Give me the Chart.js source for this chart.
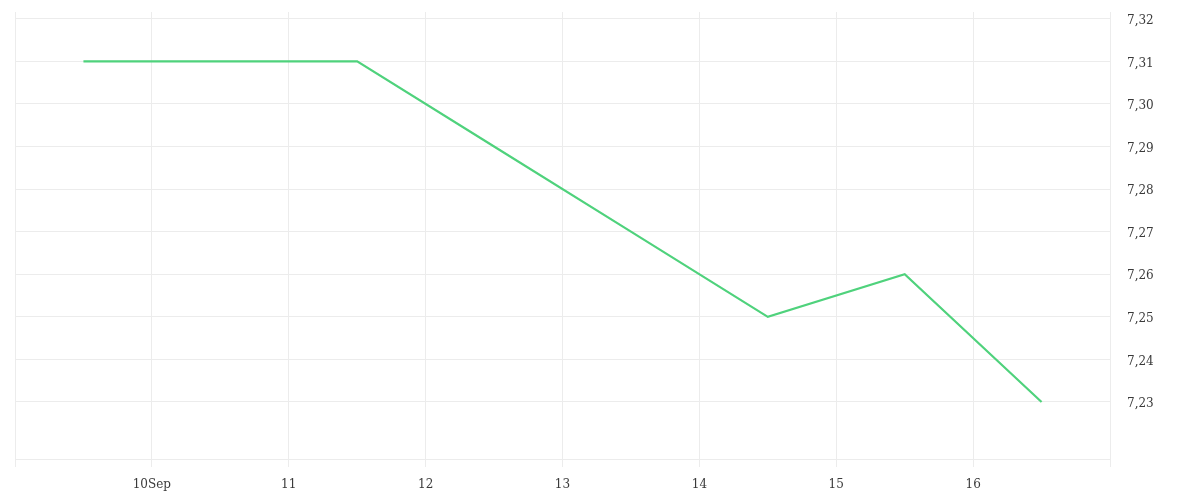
<!DOCTYPE html>
<html>
<head>
<meta charset="utf-8">
<script src="https://cdn.jsdelivr.net/npm/chart.js@4"></script>
<style>
html,body{margin:0;padding:0;background:#fff;}
#wrap{width:1200px;height:500px;}
</style>
</head>
<body>
<div id="wrap"><canvas id="c" width="1200" height="500"></canvas></div>
<script>
// Days of September (noon = .5)
const dayPositions = [9.5, 10.5, 11.5, 12.5, 13.5, 14.5, 15.5, 16.5];
const rateValues = [7.31, 7.31, 7.31, 7.29, 7.27, 7.25, 7.26, 7.23];
const xTickDays = [9, 10, 11, 12, 13, 14, 15, 16, 17];
const xTickLabels = ['', '10Sep', '11', '12', '13', '14', '15', '16', ''];
const yTickValues = [7.23, 7.24, 7.25, 7.26, 7.27, 7.28, 7.29, 7.30, 7.31, 7.32];

const points = dayPositions.map((d, i) => ({x: d, y: rateValues[i]}));
const gridColor = '#ececec';
const tickFont = {family: '"DejaVu Serif", serif', size: 12};

new Chart(document.getElementById('c'), {
  type: 'line',
  data: {
    datasets: [{
      data: points,
      borderColor: '#4fd27c',
      borderWidth: 2.2,
      pointRadius: 0,
      pointHoverRadius: 0,
      tension: 0,
      fill: false
    }]
  },
  options: {
    responsive: false,
    animation: false,
    devicePixelRatio: 1,
    layout: {padding: {left: 15, top: 12, right: 0, bottom: 0}},
    plugins: {legend: {display: false}, tooltip: {enabled: false}},
    scales: {
      x: {
        type: 'linear',
        min: 9,
        max: 17,
        afterBuildTicks: s => { s.ticks = xTickDays.map(v => ({value: v})); },
        afterFit: s => { s.height = 41; s.paddingLeft = 0; s.paddingRight = 0; },
        ticks: {
          callback: (v) => { const i = xTickDays.indexOf(v); return i >= 0 ? xTickLabels[i] : ''; },
          font: tickFont,
          color: '#3a3a3a',
          padding: 11,
          maxRotation: 0,
          autoSkip: false
        },
        grid: {color: gridColor, tickLength: 8, tickColor: gridColor},
        border: {display: true, color: gridColor}
      },
      y: {
        type: 'linear',
        position: 'right',
        min: 7.2166,
        max: 7.3216,
        afterBuildTicks: s => { s.ticks = yTickValues.map(v => ({value: v})); },
        afterFit: s => { s.width = 90; s.paddingTop = 0; s.paddingBottom = 0; },
        ticks: {
          callback: v => v.toFixed(2).replace('.', ','),
          font: tickFont,
          color: '#3a3a3a',
          padding: 17,
          labelOffset: 2
        },
        grid: {color: gridColor, drawTicks: false},
        border: {display: false}
      }
    }
  }
});
</script>
</body>
</html>
